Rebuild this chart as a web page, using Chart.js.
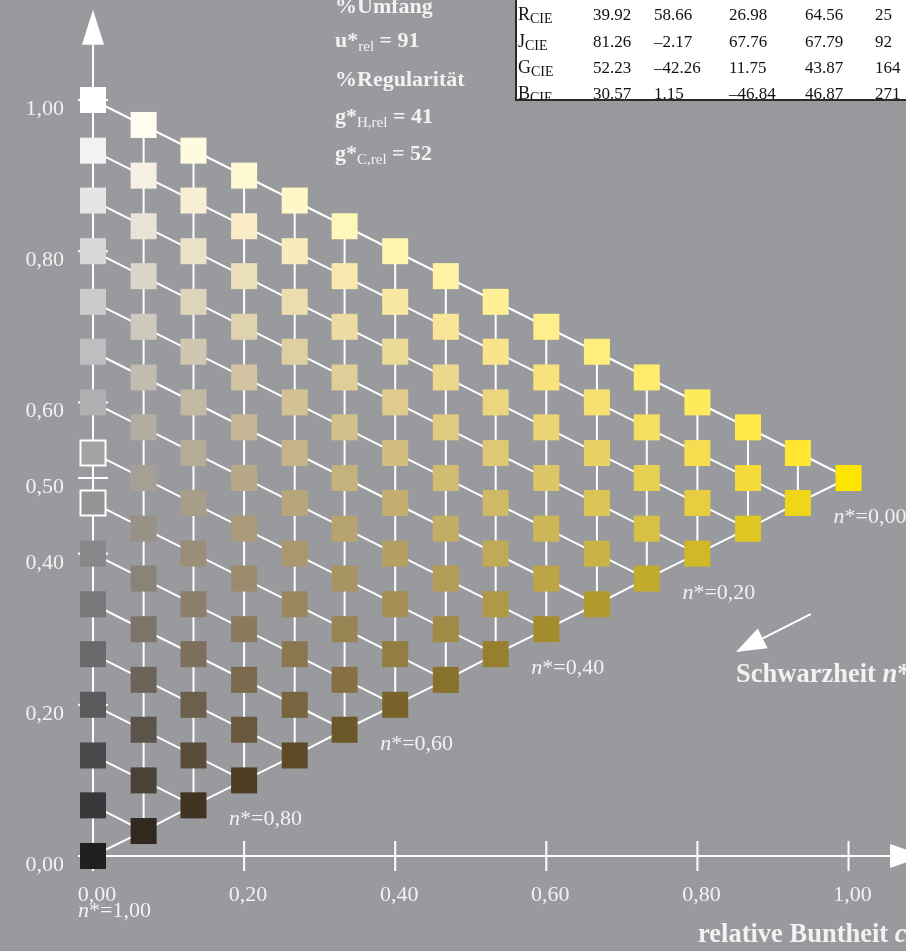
<!DOCTYPE html>
<html lang="de">
<head>
<meta charset="utf-8">
<title>Relative Buntheit und Schwarzheit</title>
<script src="https://cdn.jsdelivr.net/npm/chart.js@4.4.1/dist/chart.umd.min.js"></script>
<style>
  html, body { margin: 0; padding: 0; background: #989a9e; }
  #wrap { position: relative; width: 906px; height: 951px; }
</style>
</head>
<body>
<div id="wrap"><canvas id="farbChart"></canvas></div>
<script>
// relative Buntheit c* der 16 Spalten
const buntheit = [0.000, 0.067, 0.133, 0.200, 0.267, 0.333, 0.400, 0.467, 0.533, 0.600, 0.667, 0.733, 0.800, 0.867, 0.933, 1.000];

// Lage der Farbfelder je Spalte (von unten nach oben)
const helligkeit = [
  [0.000, 0.067, 0.133, 0.200, 0.267, 0.333, 0.400, 0.467, 0.533, 0.600, 0.667, 0.733, 0.800, 0.867, 0.933, 1.000],
  [0.033, 0.100, 0.167, 0.233, 0.300, 0.367, 0.433, 0.500, 0.567, 0.633, 0.700, 0.767, 0.833, 0.900, 0.967],
  [0.067, 0.133, 0.200, 0.267, 0.333, 0.400, 0.467, 0.533, 0.600, 0.667, 0.733, 0.800, 0.867, 0.933],
  [0.100, 0.167, 0.233, 0.300, 0.367, 0.433, 0.500, 0.567, 0.633, 0.700, 0.767, 0.833, 0.900],
  [0.133, 0.200, 0.267, 0.333, 0.400, 0.467, 0.533, 0.600, 0.667, 0.733, 0.800, 0.867],
  [0.167, 0.233, 0.300, 0.367, 0.433, 0.500, 0.567, 0.633, 0.700, 0.767, 0.833],
  [0.200, 0.267, 0.333, 0.400, 0.467, 0.533, 0.600, 0.667, 0.733, 0.800],
  [0.233, 0.300, 0.367, 0.433, 0.500, 0.567, 0.633, 0.700, 0.767],
  [0.267, 0.333, 0.400, 0.467, 0.533, 0.600, 0.667, 0.733],
  [0.300, 0.367, 0.433, 0.500, 0.567, 0.633, 0.700],
  [0.333, 0.400, 0.467, 0.533, 0.600, 0.667],
  [0.367, 0.433, 0.500, 0.567, 0.633],
  [0.400, 0.467, 0.533, 0.600],
  [0.433, 0.500, 0.567],
  [0.467, 0.533],
  [0.500]
];

// Achsenteilung
const xTicks = [0, 0.2, 0.4, 0.6, 0.8, 1.0];
const xTickLabels = ["0,00", "0,20", "0,40", "0,60", "0,80", "1,00"];
const yTicks = [0, 0.2, 0.4, 0.5, 0.6, 0.8, 1.0];
const yTickLabels = ["0,00", "0,20", "0,40", "0,50", "0,60", "0,80", "1,00"];

// Schwarzheit-Marken an der unteren Kante
const schwarzSpalten = [0, 3, 6, 9, 12, 15];
const schwarzWerte = ["1,00", "0,80", "0,60", "0,40", "0,20", "0,00"];

// Kennzahlen oben
const umfangRel = 91;
const regularitaetH = 41;
const regularitaetC = 52;

// Tabelle oben rechts
const tabZeilen = ["R", "J", "G", "B"];
const tabWerte = [
  ["39.92", "58.66", "26.98", "64.56", "25"],
  ["81.26", "–2.17", "67.76", "67.79", "92"],
  ["52.23", "–42.26", "11.75", "43.87", "164"],
  ["30.57", "1.15", "–46.84", "46.87", "271"]
];

// --- Farben (CIELAB-Mischung aus Schwarz, Weiss und Gelb) ---
function hexZuLab(hex) {
  const n = parseInt(hex.slice(1), 16);
  const rgb = [(n >> 16) & 255, (n >> 8) & 255, n & 255].map((v) => {
    v /= 255;
    return v <= 0.04045 ? v / 12.92 : Math.pow((v + 0.055) / 1.055, 2.4);
  });
  const X = (0.4124 * rgb[0] + 0.3576 * rgb[1] + 0.1805 * rgb[2]) / 0.95047;
  const Y = 0.2126 * rgb[0] + 0.7152 * rgb[1] + 0.0722 * rgb[2];
  const Z = (0.0193 * rgb[0] + 0.1192 * rgb[1] + 0.9505 * rgb[2]) / 1.08883;
  const f = (t) => (t > 0.008856 ? Math.cbrt(t) : 7.787 * t + 16 / 116);
  return [116 * f(Y) - 16, 500 * (f(X) - f(Y)), 200 * (f(Y) - f(Z))];
}

function labZuRgb(lab) {
  const fy = (lab[0] + 16) / 116;
  const fx = fy + lab[1] / 500;
  const fz = fy - lab[2] / 200;
  const fi = (t) => (t > 0.206893 ? t * t * t : (t - 16 / 116) / 7.787);
  const X = 0.95047 * fi(fx), Y = fi(fy), Z = 1.08883 * fi(fz);
  const lin = [
    3.2406 * X - 1.5372 * Y - 0.4986 * Z,
    -0.9689 * X + 1.8758 * Y + 0.0415 * Z,
    0.0557 * X - 0.204 * Y + 1.057 * Z
  ];
  const c = lin.map((v) => {
    v = Math.min(1, Math.max(0, v));
    v = v <= 0.0031308 ? 12.92 * v : 1.055 * Math.pow(v, 1 / 2.4) - 0.055;
    return Math.round(v * 255);
  });
  return `rgb(${c[0]}, ${c[1]}, ${c[2]})`;
}

const labSchwarz = hexZuLab("#211e1f");
const labWeiss = hexZuLab("#ffffff");
const labGelb = hexZuLab("#ffe500");

function feldFarbe(c, y) {
  // Anteil Weiss im unbunten Teil, leicht angehobene Graureihe
  let t = c >= 0.999 ? 0 : (y - c / 2) / (1 - c);
  t = Math.min(1, Math.max(0, t));
  const g = Math.pow(t, 0.75);
  const grauL = labSchwarz[0] + (labWeiss[0] - labSchwarz[0]) * g;
  const grauA = labSchwarz[1] * (1 - g);
  const grauB = labSchwarz[2] * (1 - g) - 5 * g * (1 - g);
  const rest = 1 - c;
  const L = rest * grauL + c * labGelb[0];
  // im Dunklen etwas waermer, bei kleiner Buntheit etwas kraeftiger
  const a = rest * grauA + c * labGelb[1] + 30 * c * rest * rest * Math.pow(1 - t, 1.5);
  const b = rest * grauB + c * labGelb[2] * (0.85 + 0.15 * c) * (1 + 0.6 * Math.pow(rest, 4));
  return labZuRgb([L, a, b]);
}

// --- Datensaetze ---
const felder = [];
const feldFarben = [];
const feldRand = [];
const feldRandBreite = [];
const feldRadius = [];
buntheit.forEach((c, i) => {
  helligkeit[i].forEach((y) => {
    felder.push({ x: c, y: y });
    feldFarben.push(feldFarbe(c, y));
    // die beiden Felder nahe am Umfeld werden weiss umrandet
    const hohl = i === 0 && (y === 0.467 || y === 0.533);
    feldRand.push(hohl ? "#ffffff" : "rgba(0,0,0,0)");
    feldRandBreite.push(hohl ? 2 : 0);
    feldRadius.push(hohl ? 17.7 : 18.4);
  });
});

const linien = [];
function linie(punkte) {
  linien.push({
    type: "scatter",
    data: punkte,
    showLine: true,
    borderColor: "#ffffff",
    borderWidth: 2,
    pointRadius: 0,
    order: 1
  });
}
// senkrechte Linien je Spalte
buntheit.forEach((c, i) => {
  const h = helligkeit[i];
  if (h.length > 1) linie([{ x: c, y: h[0] }, { x: c, y: h[h.length - 1] }]);
});
// Linien gleicher Weissheit (von links nach rechts unten)
for (let k = 1; k < helligkeit[0].length; k++) {
  linie([{ x: 0, y: helligkeit[0][k] }, { x: buntheit[k], y: helligkeit[k][0] }]);
}
// untere Kante Schwarz -> Gelb
linie(buntheit.map((c, i) => ({ x: c, y: helligkeit[i][0] })));

// --- Zeichenhilfen ---
const serif = '"Liberation Serif", "Times New Roman", serif';
const textFarbe = "#f2f2f2";

function teile(ctx, x, y, stuecke) {
  stuecke.forEach((s) => {
    ctx.font = s.font;
    ctx.fillText(s.text, x, y + (s.dy || 0));
    x += ctx.measureText(s.text).width;
  });
}

const achsenPlugin = {
  id: "achsen",
  beforeDatasetsDraw(chart) {
    const { ctx, scales } = chart;
    const xs = scales.x, ys = scales.y;
    const x0 = xs.getPixelForValue(0);
    const y0 = ys.getPixelForValue(0);
    ctx.save();
    ctx.strokeStyle = "#ffffff";
    ctx.fillStyle = "#ffffff";
    ctx.lineWidth = 2;

    // y-Achse mit Pfeil
    const yOben = ys.getPixelForValue(1.073);
    ctx.beginPath();
    ctx.moveTo(x0, y0 + 15);
    ctx.lineTo(x0, yOben);
    ctx.stroke();
    ctx.beginPath();
    ctx.moveTo(x0 - 11, yOben);
    ctx.lineTo(x0 + 11, yOben);
    ctx.lineTo(x0, yOben - 35);
    ctx.closePath();
    ctx.fill();

    // x-Achse mit Pfeil
    const xRechts = xs.getPixelForValue(1.055);
    ctx.beginPath();
    ctx.moveTo(x0 - 15, y0);
    ctx.lineTo(xRechts, y0);
    ctx.stroke();
    ctx.beginPath();
    ctx.moveTo(xRechts, y0 - 12);
    ctx.lineTo(xRechts, y0 + 12);
    ctx.lineTo(xRechts + 35, y0);
    ctx.closePath();
    ctx.fill();

    // Teilstriche
    yTicks.forEach((v) => {
      const p = ys.getPixelForValue(v);
      ctx.beginPath();
      ctx.moveTo(x0 - 15, p);
      ctx.lineTo(x0 + 15, p);
      ctx.stroke();
    });
    xTicks.forEach((v) => {
      const p = xs.getPixelForValue(v);
      ctx.beginPath();
      ctx.moveTo(p, y0 - 15);
      ctx.lineTo(p, y0 + 15);
      ctx.stroke();
    });
    ctx.restore();
  },

  afterDraw(chart) {
    const { ctx, scales } = chart;
    const xs = scales.x, ys = scales.y;
    const y0 = ys.getPixelForValue(0);
    ctx.save();
    ctx.fillStyle = textFarbe;
    ctx.textBaseline = "alphabetic";

    // Achsenbeschriftung
    ctx.font = `22px ${serif}`;
    ctx.textAlign = "right";
    yTicks.forEach((v, i) => ctx.fillText(yTickLabels[i], 64, ys.getPixelForValue(v) + 15));
    ctx.textAlign = "center";
    xTicks.forEach((v, i) => ctx.fillText(xTickLabels[i], xs.getPixelForValue(v) + 4, y0 + 45));

    // n*-Marken
    ctx.textAlign = "left";
    schwarzSpalten.forEach((s, i) => {
      const px = xs.getPixelForValue(buntheit[s]) - 15;
      const py = ys.getPixelForValue(helligkeit[s][0]) + (s === 0 ? 61 : 45);
      teile(ctx, px, py, [
        { text: "n", font: `italic 22px ${serif}` },
        { text: "*=" + schwarzWerte[i], font: `22px ${serif}` }
      ]);
    });

    // Kennzahlen
    const fett = `bold 22px ${serif}`;
    const klein = `15px ${serif}`;
    teile(ctx, 335, 13, [{ text: "%Umfang", font: fett }]);
    teile(ctx, 335, 47, [
      { text: "u*", font: fett },
      { text: "rel", font: klein, dy: 4 },
      { text: " = " + umfangRel, font: fett }
    ]);
    teile(ctx, 335, 86, [{ text: "%Regularität", font: fett }]);
    teile(ctx, 335, 123, [
      { text: "g*", font: fett },
      { text: "H,rel", font: klein, dy: 4 },
      { text: " = " + regularitaetH, font: fett }
    ]);
    teile(ctx, 335, 160, [
      { text: "g*", font: fett },
      { text: "C,rel", font: klein, dy: 4 },
      { text: " = " + regularitaetC, font: fett }
    ]);

    // Schwarzheit-Pfeil
    const pa = { x: xs.getPixelForValue(0.950), y: ys.getPixelForValue(0.320) };
    const pb = { x: xs.getPixelForValue(0.851), y: ys.getPixelForValue(0.270) };
    const dx = pb.x - pa.x, dy = pb.y - pa.y;
    const len = Math.hypot(dx, dy);
    const ux = dx / len, uy = dy / len;
    const bx = pb.x - ux * 30, by = pb.y - uy * 30;
    ctx.strokeStyle = "#ffffff";
    ctx.fillStyle = "#ffffff";
    ctx.lineWidth = 2;
    ctx.beginPath();
    ctx.moveTo(pa.x, pa.y);
    ctx.lineTo(bx, by);
    ctx.stroke();
    ctx.beginPath();
    ctx.moveTo(pb.x, pb.y);
    ctx.lineTo(bx - uy * 11, by + ux * 11);
    ctx.lineTo(bx + uy * 11, by - ux * 11);
    ctx.closePath();
    ctx.fill();

    ctx.fillStyle = textFarbe;
    const fettGross = `bold 26.5px ${serif}`;
    teile(ctx, 736, 682, [
      { text: "Schwarzheit ", font: fettGross },
      { text: "n", font: `italic bold 26.5px ${serif}` },
      { text: "*", font: fettGross }
    ]);
    teile(ctx, 698, 942, [
      { text: "relative Buntheit ", font: fettGross },
      { text: "c", font: `italic bold 26.5px ${serif}` },
      { text: "*", font: fettGross }
    ]);

    // Tabelle
    ctx.fillStyle = "#ffffff";
    ctx.fillRect(516, 0, 400, 100);
    ctx.fillStyle = "#111111";
    const spaltenX = [593, 654, 729, 805, 875];
    const zeilenY = [20, 47, 73, 99];
    tabZeilen.forEach((z, r) => {
      teile(ctx, 518, zeilenY[r], [
        { text: z, font: `18px ${serif}` },
        { text: "CIE", font: `14px ${serif}`, dy: 3 }
      ]);
      ctx.font = `17px ${serif}`;
      tabWerte[r].forEach((w, k) => ctx.fillText(w, spaltenX[k], zeilenY[r]));
    });
    ctx.fillStyle = "#98999d";
    ctx.fillRect(516, 101, 400, 6);
    ctx.strokeStyle = "#2a2a2a";
    ctx.lineWidth = 2;
    ctx.beginPath();
    ctx.moveTo(516, 0);
    ctx.lineTo(516, 100);
    ctx.lineTo(906, 100);
    ctx.stroke();
    ctx.restore();
  }
};

const ctx = document.getElementById("farbChart").getContext("2d");
new Chart(ctx, {
  type: "scatter",
  data: {
    datasets: [
      {
        data: felder,
        pointStyle: "rect",
        pointRadius: feldRadius,
        pointBackgroundColor: feldFarben,
        pointBorderColor: feldRand,
        pointBorderWidth: feldRandBreite,
        order: 0
      },
      ...linien
    ]
  },
  options: {
    responsive: true,
    maintainAspectRatio: false,
    animation: false,
    events: [],
    layout: { padding: 0, autoPadding: false },
    plugins: { legend: { display: false }, tooltip: { enabled: false } },
    scales: {
      x: { type: "linear", min: -0.1231, max: 1.0761, display: false },
      y: { type: "linear", min: -0.12566, max: 1.13228, display: false }
    }
  },
  plugins: [achsenPlugin]
});
</script>
</body>
</html>
